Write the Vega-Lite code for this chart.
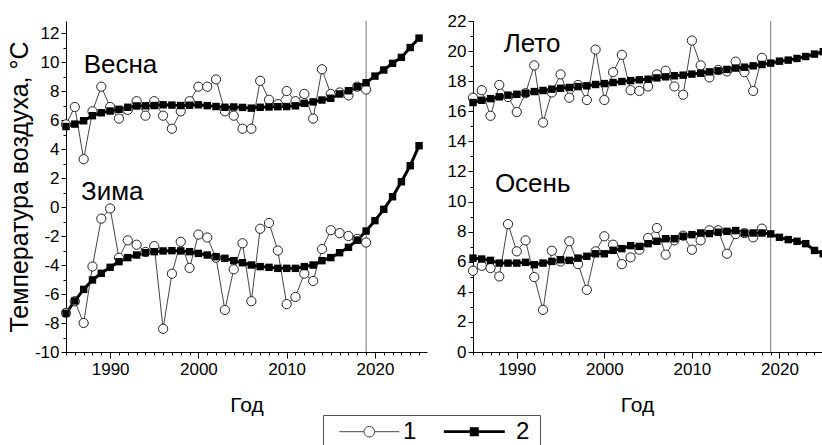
{
  "$schema": "https://vega.github.io/schema/vega-lite/v6.json",
  "padding": {"left": 7, "top": 12, "right": 0, "bottom": 0},
  "background": "white",
  "datasets": {
    "left": [
      {"season":"Весна","year":1985,"obs":5.7,"fit":5.55},{"season":"Весна","year":1986,"obs":6.9,"fit":5.72},{"season":"Весна","year":1987,"obs":3.3,"fit":5.95},{"season":"Весна","year":1988,"obs":6.6,"fit":6.3},{"season":"Весна","year":1989,"obs":8.3,"fit":6.5},{"season":"Весна","year":1990,"obs":6.9,"fit":6.62},{"season":"Весна","year":1991,"obs":6.1,"fit":6.74},{"season":"Весна","year":1992,"obs":6.7,"fit":6.88},{"season":"Весна","year":1993,"obs":7.3,"fit":6.97},{"season":"Весна","year":1994,"obs":6.3,"fit":6.98},{"season":"Весна","year":1995,"obs":7.3,"fit":7.0},{"season":"Весна","year":1996,"obs":6.3,"fit":7.05},{"season":"Весна","year":1997,"obs":5.4,"fit":7.03},{"season":"Весна","year":1998,"obs":6.6,"fit":7.0},{"season":"Весна","year":1999,"obs":7.3,"fit":7.02},{"season":"Весна","year":2000,"obs":8.3,"fit":7.05},{"season":"Весна","year":2001,"obs":8.3,"fit":6.99},{"season":"Весна","year":2002,"obs":8.8,"fit":6.93},{"season":"Весна","year":2003,"obs":6.6,"fit":6.88},{"season":"Весна","year":2004,"obs":6.3,"fit":6.9},{"season":"Весна","year":2005,"obs":5.4,"fit":6.87},{"season":"Весна","year":2006,"obs":5.4,"fit":6.82},{"season":"Весна","year":2007,"obs":8.7,"fit":6.88},{"season":"Весна","year":2008,"obs":7.4,"fit":6.9},{"season":"Весна","year":2009,"obs":7.1,"fit":6.92},{"season":"Весна","year":2010,"obs":8.0,"fit":6.93},{"season":"Весна","year":2011,"obs":7.3,"fit":6.98},{"season":"Весна","year":2012,"obs":7.8,"fit":7.15},{"season":"Весна","year":2013,"obs":6.1,"fit":7.25},{"season":"Весна","year":2014,"obs":9.5,"fit":7.38},{"season":"Весна","year":2015,"obs":7.8,"fit":7.5},{"season":"Весна","year":2016,"obs":7.9,"fit":7.8},{"season":"Весна","year":2017,"obs":7.7,"fit":8.02},{"season":"Весна","year":2018,"obs":8.3,"fit":8.3},{"season":"Весна","year":2019,"obs":8.1,"fit":8.57},{"season":"Весна","year":2020,"fit":9.03},{"season":"Весна","year":2021,"fit":9.45},{"season":"Весна","year":2022,"fit":9.91},{"season":"Весна","year":2023,"fit":10.32},{"season":"Весна","year":2024,"fit":11.0},{"season":"Весна","year":2025,"fit":11.65},
      {"season":"Зима","year":1985,"obs":-7.3,"fit":-7.33},{"season":"Зима","year":1986,"obs":-6.5,"fit":-6.48},{"season":"Зима","year":1987,"obs":-8.0,"fit":-5.68},{"season":"Зима","year":1988,"obs":-4.1,"fit":-5.03},{"season":"Зима","year":1989,"obs":-0.8,"fit":-4.57},{"season":"Зима","year":1990,"obs":-0.1,"fit":-4.16},{"season":"Зима","year":1991,"obs":-3.5,"fit":-3.77},{"season":"Зима","year":1992,"obs":-2.3,"fit":-3.49},{"season":"Зима","year":1993,"obs":-2.6,"fit":-3.31},{"season":"Зима","year":1994,"obs":-3.1,"fit":-3.15},{"season":"Зима","year":1995,"obs":-2.7,"fit":-3.08},{"season":"Зима","year":1996,"obs":-8.4,"fit":-3.03},{"season":"Зима","year":1997,"obs":-4.6,"fit":-3.01},{"season":"Зима","year":1998,"obs":-2.4,"fit":-3.03},{"season":"Зима","year":1999,"obs":-4.2,"fit":-3.08},{"season":"Зима","year":2000,"obs":-1.9,"fit":-3.2},{"season":"Зима","year":2001,"obs":-2.1,"fit":-3.31},{"season":"Зима","year":2002,"obs":-3.5,"fit":-3.43},{"season":"Зима","year":2003,"obs":-7.1,"fit":-3.54},{"season":"Зима","year":2004,"obs":-4.3,"fit":-3.7},{"season":"Зима","year":2005,"obs":-2.5,"fit":-3.84},{"season":"Зима","year":2006,"obs":-6.5,"fit":-4.0},{"season":"Зима","year":2007,"obs":-1.5,"fit":-4.11},{"season":"Зима","year":2008,"obs":-1.1,"fit":-4.16},{"season":"Зима","year":2009,"obs":-3.0,"fit":-4.23},{"season":"Зима","year":2010,"obs":-6.7,"fit":-4.23},{"season":"Зима","year":2011,"obs":-6.2,"fit":-4.23},{"season":"Зима","year":2012,"obs":-4.6,"fit":-4.11},{"season":"Зима","year":2013,"obs":-5.1,"fit":-4.0},{"season":"Зима","year":2014,"obs":-2.9,"fit":-3.7},{"season":"Зима","year":2015,"obs":-1.6,"fit":-3.49},{"season":"Зима","year":2016,"obs":-1.8,"fit":-3.15},{"season":"Зима","year":2017,"obs":-2.0,"fit":-2.78},{"season":"Зима","year":2018,"obs":-2.2,"fit":-2.28},{"season":"Зима","year":2019,"obs":-2.45,"fit":-1.66},{"season":"Зима","year":2020,"fit":-0.94},{"season":"Зима","year":2021,"fit":-0.16},{"season":"Зима","year":2022,"fit":0.71},{"season":"Зима","year":2023,"fit":1.74},{"season":"Зима","year":2024,"fit":2.85},{"season":"Зима","year":2025,"fit":4.23}
    ],
    "right": [
      {"season":"Лето","year":1985,"obs":16.9,"fit":16.58},{"season":"Лето","year":1986,"obs":17.4,"fit":16.73},{"season":"Лето","year":1987,"obs":15.7,"fit":16.84},{"season":"Лето","year":1988,"obs":17.75,"fit":16.96},{"season":"Лето","year":1989,"obs":16.95,"fit":17.07},{"season":"Лето","year":1990,"obs":15.95,"fit":17.13},{"season":"Лето","year":1991,"obs":17.2,"fit":17.2},{"season":"Лето","year":1992,"obs":19.05,"fit":17.31},{"season":"Лето","year":1993,"obs":15.25,"fit":17.38},{"season":"Лето","year":1994,"obs":17.25,"fit":17.47},{"season":"Лето","year":1995,"obs":18.45,"fit":17.53},{"season":"Лето","year":1996,"obs":16.9,"fit":17.58},{"season":"Лето","year":1997,"obs":17.75,"fit":17.64},{"season":"Лето","year":1998,"obs":16.75,"fit":17.69},{"season":"Лето","year":1999,"obs":20.1,"fit":17.78},{"season":"Лето","year":2000,"obs":16.75,"fit":17.84},{"season":"Лето","year":2001,"obs":18.6,"fit":17.91},{"season":"Лето","year":2002,"obs":19.75,"fit":17.98},{"season":"Лето","year":2003,"obs":17.4,"fit":18.04},{"season":"Лето","year":2004,"obs":17.35,"fit":18.09},{"season":"Лето","year":2005,"obs":17.65,"fit":18.13},{"season":"Лето","year":2006,"obs":18.45,"fit":18.22},{"season":"Лето","year":2007,"obs":18.7,"fit":18.29},{"season":"Лето","year":2008,"obs":17.65,"fit":18.36},{"season":"Лето","year":2009,"obs":17.1,"fit":18.4},{"season":"Лето","year":2010,"obs":20.7,"fit":18.47},{"season":"Лето","year":2011,"obs":19.05,"fit":18.53},{"season":"Лето","year":2012,"obs":18.25,"fit":18.62},{"season":"Лето","year":2013,"obs":18.75,"fit":18.69},{"season":"Лето","year":2014,"obs":18.65,"fit":18.78},{"season":"Лето","year":2015,"obs":19.3,"fit":18.87},{"season":"Лето","year":2016,"obs":18.6,"fit":18.93},{"season":"Лето","year":2017,"obs":17.35,"fit":19.02},{"season":"Лето","year":2018,"obs":19.55,"fit":19.11},{"season":"Лето","year":2019,"fit":19.2},{"season":"Лето","year":2020,"fit":19.33},{"season":"Лето","year":2021,"fit":19.4},{"season":"Лето","year":2022,"fit":19.51},{"season":"Лето","year":2023,"fit":19.64},{"season":"Лето","year":2024,"fit":19.8},{"season":"Лето","year":2025,"fit":19.96},
      {"season":"Осень","year":1985,"obs":5.4,"fit":6.24},{"season":"Осень","year":1986,"obs":5.73,"fit":6.18},{"season":"Осень","year":1987,"obs":5.58,"fit":6.09},{"season":"Осень","year":1988,"obs":5.02,"fit":5.91},{"season":"Осень","year":1989,"obs":8.5,"fit":5.91},{"season":"Осень","year":1990,"obs":6.69,"fit":5.91},{"season":"Осень","year":1991,"obs":7.42,"fit":5.96},{"season":"Осень","year":1992,"obs":4.98,"fit":5.8},{"season":"Осень","year":1993,"obs":2.8,"fit":5.91},{"season":"Осень","year":1994,"obs":6.73,"fit":6.02},{"season":"Осень","year":1995,"obs":6.02,"fit":6.13},{"season":"Осень","year":1996,"obs":7.36,"fit":6.09},{"season":"Осень","year":1997,"obs":5.84,"fit":6.24},{"season":"Осень","year":1998,"obs":4.13,"fit":6.36},{"season":"Осень","year":1999,"obs":6.69,"fit":6.53},{"season":"Осень","year":2000,"obs":7.69,"fit":6.53},{"season":"Осень","year":2001,"obs":7.13,"fit":6.76},{"season":"Осень","year":2002,"obs":5.84,"fit":6.87},{"season":"Осень","year":2003,"obs":6.29,"fit":7.07},{"season":"Осень","year":2004,"obs":6.8,"fit":7.02},{"season":"Осень","year":2005,"obs":7.58,"fit":7.2},{"season":"Осень","year":2006,"obs":8.24,"fit":7.36},{"season":"Осень","year":2007,"obs":6.47,"fit":7.53},{"season":"Осень","year":2008,"obs":7.42,"fit":7.53},{"season":"Осень","year":2009,"obs":7.73,"fit":7.69},{"season":"Осень","year":2010,"obs":6.8,"fit":7.8},{"season":"Осень","year":2011,"obs":7.42,"fit":7.91},{"season":"Осень","year":2012,"obs":8.09,"fit":7.87},{"season":"Осень","year":2013,"obs":8.09,"fit":7.96},{"season":"Осень","year":2014,"obs":6.53,"fit":8.02},{"season":"Осень","year":2015,"obs":7.84,"fit":8.07},{"season":"Осень","year":2016,"obs":7.9,"fit":7.91},{"season":"Осень","year":2017,"obs":7.62,"fit":7.91},{"season":"Осень","year":2018,"obs":8.2,"fit":7.91},{"season":"Осень","year":2019,"fit":7.85},{"season":"Осень","year":2020,"fit":7.62},{"season":"Осень","year":2021,"fit":7.47},{"season":"Осень","year":2022,"fit":7.36},{"season":"Осень","year":2023,"fit":7.2},{"season":"Осень","year":2024,"fit":6.75},{"season":"Осень","year":2025,"fit":6.53}
    ]
  },
  "spacing": 20,
  "resolve": {"scale": {"color": "shared"}, "legend": {"color": "shared"}},
  "hconcat": [
    {
      "width": 361,
      "height": 331,
      "data": {"name": "left"},
      "resolve": {"axis": {"x": "independent", "y": "independent"}},
      "layer": [
        {
          "data": {"values": [{}]},
          "mark": {"type": "rule", "color": "#777777", "strokeWidth": 1},
          "encoding": {"x": {"datum": 2019, "type": "quantitative", "scale": {"domain": [1985, 2025.9], "nice": false, "zero": false}, "axis": null}}
        },
        {
          "mark": {"type": "line", "strokeWidth": 1},
          "encoding": {
            "x": {"field": "year", "type": "quantitative", "scale": {"domain": [1985, 2025.9], "nice": false, "zero": false},
                  "axis": {"orient": "bottom", "values": [1990, 2000, 2010, 2020], "tickSize": 6, "labelPadding": 3, "labelExpr": "'' + datum.value", "title": "Год", "titleFontSize": 21, "titlePadding": 17}},
            "y": {"field": "obs", "type": "quantitative", "scale": {"domain": [-10, 12.83], "nice": false, "zero": false},
                  "axis": {"orient": "left", "values": [-10, -8, -6, -4, -2, 0, 2, 4, 6, 8, 10, 12], "tickSize": 5, "labelPadding": 2, "labelExpr": "'' + datum.value", "title": "Температура воздуха, °C", "titleFontSize": 25, "titlePadding": 2}},
            "detail": {"field": "season"},
            "color": {"datum": "1", "type": "nominal", "scale": {"domain": ["1", "2"], "range": ["#444444", "black"]},
              "legend": {"title": null, "orient": "none", "legendX": 257, "legendY": 394, "direction": "horizontal", "symbolSize": 100, "labelFont": "Liberation Sans", "labelFontSize": 24, "labelColor": "black", "labelOffset": 46, "columnPadding": 21, "padding": 10, "strokeColor": "#555555", "fillColor": "white", "labelExpr": "datum.value == '2' ? '2\u2007\u2007\u2009' : datum.label",
                "encoding": {
                  "symbols": {
                    "shape": {"value": {"expr": "datum.value == '1' ? 'M-1.14,-1.06L3.8,-1.06M5.92,-1.06L10.86,-1.06M3.8,-1.06A1.06,1.06,0,1,0,5.92,-1.06A1.06,1.06,0,1,0,3.8,-1.06Z' : 'M-1.24,-1.06L10.96,-1.06M4.23,-1.69L5.49,-1.69L5.49,-0.43L4.23,-0.43Z'"}},
                    "size": {"value": 100},
                    "fill": {"value": {"expr": "datum.value == '1' ? 'white' : 'black'"}},
                    "strokeWidth": {"value": {"expr": "datum.value == '1' ? 1 : 2.7"}},
                    "opacity": {"value": 1}
                  },
                  "labels": {"dy": {"value": -5}, "dx": {"value": {"expr": "datum.value == '2' ? 8 : 0"}}}
                }
              }
            }
          }
        },
        {
          "mark": {"type": "line", "strokeWidth": 3},
          "encoding": {
            "x": {"field": "year", "type": "quantitative", "scale": {"domain": [1985, 2025.9], "nice": false, "zero": false},
                  "axis": {"orient": "bottom", "values": [1985,1986,1987,1988,1989,1990,1991,1992,1993,1994,1995,1996,1997,1998,1999,2000,2001,2002,2003,2004,2005,2006,2007,2008,2009,2010,2011,2012,2013,2014,2015,2016,2017,2018,2019,2020,2021,2022,2023,2024,2025], "tickSize": 3, "labels": false, "domain": false, "title": null}},
            "y": {"field": "fit", "type": "quantitative", "scale": {"domain": [-10, 12.83], "nice": false, "zero": false},
                  "axis": {"orient": "left", "values": [-10,-9,-8,-7,-6,-5,-4,-3,-2,-1,0,1,2,3,4,5,6,7,8,9,10,11,12], "tickSize": 3, "labels": false, "domain": false, "title": null}},
            "detail": {"field": "season"},
            "color": {"datum": "2", "type": "nominal", "scale": {"domain": ["1", "2"], "range": ["#444444", "black"]}}
          }
        },
        {
          "mark": {"type": "point", "shape": "circle", "filled": true, "fill": "white", "stroke": "#222222", "strokeWidth": 1, "size": 85, "opacity": 1},
          "encoding": {
            "x": {"field": "year", "type": "quantitative", "axis": null},
            "y": {"field": "obs", "type": "quantitative", "axis": null}
          }
        },
        {
          "mark": {"type": "point", "shape": "square", "filled": true, "fill": "black", "size": 55, "opacity": 1},
          "encoding": {
            "x": {"field": "year", "type": "quantitative", "axis": null},
            "y": {"field": "fit", "type": "quantitative", "axis": null}
          }
        },
        {
          "data": {"values": [{}]},
          "mark": {"type": "text", "text": "Весна", "font": "Liberation Sans", "fontSize": 26, "align": "left", "baseline": "alphabetic", "color": "black"},
          "encoding": {"x": {"datum": 1987.0, "type": "quantitative", "axis": null}, "y": {"datum": 9.26, "type": "quantitative", "axis": null}}
        },
        {
          "data": {"values": [{}]},
          "mark": {"type": "text", "text": "Зима", "font": "Liberation Sans", "fontSize": 26, "align": "left", "baseline": "alphabetic", "color": "black"},
          "encoding": {"x": {"datum": 1986.7, "type": "quantitative", "axis": null}, "y": {"datum": 0.48, "type": "quantitative", "axis": null}}
        }
      ]
    },
    {
      "width": 352,
      "height": 331,
      "data": {"name": "right"},
      "resolve": {"axis": {"x": "independent", "y": "independent"}},
      "layer": [
        {
          "data": {"values": [{}]},
          "mark": {"type": "rule", "color": "#777777", "strokeWidth": 1},
          "encoding": {"x": {"datum": 2019, "type": "quantitative", "scale": {"domain": [1985, 2025.2], "nice": false, "zero": false}, "axis": null}}
        },
        {
          "mark": {"type": "line", "strokeWidth": 1},
          "encoding": {
            "x": {"field": "year", "type": "quantitative", "scale": {"domain": [1985, 2025.2], "nice": false, "zero": false},
                  "axis": {"orient": "bottom", "values": [1990, 2000, 2010, 2020], "tickSize": 6, "labelPadding": 3, "labelExpr": "'' + datum.value", "title": "Год", "titleFontSize": 21, "titlePadding": 17, "titleX": 164}},
            "y": {"field": "obs", "type": "quantitative", "scale": {"domain": [0, 22], "nice": false, "zero": false},
                  "axis": {"orient": "left", "values": [0, 2, 4, 6, 8, 10, 12, 14, 16, 18, 20, 22], "tickSize": 5, "labelPadding": 2, "labelExpr": "'' + datum.value", "title": null}},
            "detail": {"field": "season"},
            "color": {"datum": "1", "type": "nominal", "scale": {"domain": ["1", "2"], "range": ["#444444", "black"]}}
          }
        },
        {
          "mark": {"type": "line", "strokeWidth": 3},
          "encoding": {
            "x": {"field": "year", "type": "quantitative", "scale": {"domain": [1985, 2025.2], "nice": false, "zero": false},
                  "axis": {"orient": "bottom", "values": [1985,1986,1987,1988,1989,1990,1991,1992,1993,1994,1995,1996,1997,1998,1999,2000,2001,2002,2003,2004,2005,2006,2007,2008,2009,2010,2011,2012,2013,2014,2015,2016,2017,2018,2019,2020,2021,2022,2023,2024,2025], "tickSize": 3, "labels": false, "domain": false, "title": null}},
            "y": {"field": "fit", "type": "quantitative", "scale": {"domain": [0, 22], "nice": false, "zero": false},
                  "axis": {"orient": "left", "values": [0,1,2,3,4,5,6,7,8,9,10,11,12,13,14,15,16,17,18,19,20,21,22], "tickSize": 3, "labels": false, "domain": false, "title": null}},
            "detail": {"field": "season"},
            "color": {"datum": "2", "type": "nominal", "scale": {"domain": ["1", "2"], "range": ["#444444", "black"]}}
          }
        },
        {
          "mark": {"type": "point", "shape": "circle", "filled": true, "fill": "white", "stroke": "#222222", "strokeWidth": 1, "size": 85, "opacity": 1},
          "encoding": {
            "x": {"field": "year", "type": "quantitative", "axis": null},
            "y": {"field": "obs", "type": "quantitative", "axis": null}
          }
        },
        {
          "mark": {"type": "point", "shape": "square", "filled": true, "fill": "black", "size": 55, "opacity": 1},
          "encoding": {
            "x": {"field": "year", "type": "quantitative", "axis": null},
            "y": {"field": "fit", "type": "quantitative", "axis": null}
          }
        },
        {
          "data": {"values": [{}]},
          "mark": {"type": "text", "text": "Лето", "font": "Liberation Sans", "fontSize": 26, "align": "left", "baseline": "alphabetic", "color": "black"},
          "encoding": {"x": {"datum": 1988.5, "type": "quantitative", "axis": null}, "y": {"datum": 19.91, "type": "quantitative", "axis": null}}
        },
        {
          "data": {"values": [{}]},
          "mark": {"type": "text", "text": "Осень", "font": "Liberation Sans", "fontSize": 26, "align": "left", "baseline": "alphabetic", "color": "black"},
          "encoding": {"x": {"datum": 1987.5, "type": "quantitative", "axis": null}, "y": {"datum": 10.62, "type": "quantitative", "axis": null}}
        }
      ]
    }
  ],
  "config": {
    "view": {"stroke": null},
    "font": "Liberation Sans",
    "axis": {"grid": false, "labelFont": "Liberation Sans", "titleFont": "Liberation Sans", "labelColor": "black", "titleColor": "black", "domainColor": "black", "tickColor": "black", "labelFontSize": 17, "titleFontWeight": "normal", "domainWidth": 1, "tickWidth": 1}
  }
}
